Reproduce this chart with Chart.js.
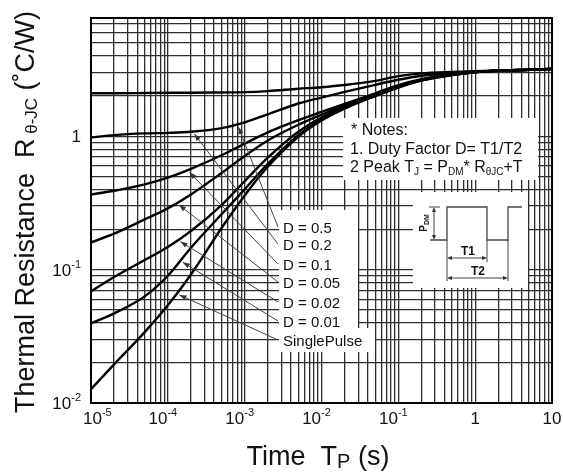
<!DOCTYPE html>
<html>
<head>
<meta charset="utf-8">
<title>Transient Thermal Resistance</title>
<script src="https://cdn.jsdelivr.net/npm/chart.js@4.4.1/dist/chart.umd.min.js"></script>
<style>
  html, body { margin: 0; padding: 0; background: #fff; }
  .box { position: relative; width: 563px; height: 472px; }
</style>
</head>
<body>
<div class="box"><canvas id="thermal" width="563" height="472"></canvas></div>
<script>
// pulse width (s) and thermal resistance (C/W)
const pulseTime = [1e-5, 2e-5, 5e-5, 1e-4, 2e-4, 5e-4, 1e-3, 2e-3, 5e-3, 1e-2, 2e-2, 5e-2, 0.1, 0.2, 0.5, 1, 2, 5, 10];
const rD05    = [2.10, 2.10, 2.11, 2.12, 2.12, 2.13, 2.14, 2.18, 2.27, 2.33, 2.42, 2.60, 2.82, 2.96, 3.04, 3.08, 3.11, 3.15, 3.19];
const rD02    = [0.98, 1.02, 1.05, 1.06, 1.08, 1.15, 1.27, 1.46, 1.76, 1.95, 2.15, 2.43, 2.65, 2.84, 2.98, 3.06, 3.10, 3.15, 3.19];
const rD01    = [0.366, 0.39, 0.436, 0.49, 0.57, 0.72, 0.88, 1.07, 1.32, 1.52, 1.75, 2.10, 2.42, 2.68, 2.92, 3.04, 3.10, 3.15, 3.19];
const rD005   = [0.16, 0.186, 0.238, 0.288, 0.366, 0.53, 0.71, 0.93, 1.22, 1.45, 1.70, 2.06, 2.38, 2.66, 2.90, 3.03, 3.10, 3.15, 3.19];
const rD002   = [0.0687, 0.088, 0.118, 0.148, 0.195, 0.305, 0.46, 0.69, 1.08, 1.38, 1.66, 2.03, 2.35, 2.64, 2.89, 3.03, 3.10, 3.15, 3.19];
const rD001   = [0.0395, 0.047, 0.063, 0.090, 0.146, 0.26, 0.40, 0.62, 1.02, 1.34, 1.63, 2.01, 2.33, 2.62, 2.88, 3.02, 3.10, 3.15, 3.19];
const rSingle = [0.0127, 0.0195, 0.034, 0.054, 0.092, 0.205, 0.36, 0.59, 0.99, 1.31, 1.61, 2.00, 2.32, 2.61, 2.87, 3.02, 3.10, 3.15, 3.19];

const seriesLabels = ['D = 0.5', 'D = 0.2', 'D = 0.1', 'D = 0.05', 'D = 0.02', 'D = 0.01', 'SinglePulse'];
const seriesValues = [rD05, rD02, rD01, rD005, rD002, rD001, rSingle];

// which curve each label's pointer lands on, and at what pulse width
const pointerSeries = [1, 1, 2, 3, 4, 5, 6];
const pointerTime = [8.0e-4, 2.1e-4, 1.8e-4, 1.3e-4, 1.35e-4, 1.45e-4, 1.3e-4];

// axis labels: base text + superscript
const xTickValues = [1e-5, 1e-4, 1e-3, 1e-2, 1e-1, 1, 10];
const xTickBase = ['10', '10', '10', '10', '10', '1', '10'];
const xTickSup = ['-5', '-4', '-3', '-2', '-1', '', ''];
const yTickValues = [0.01, 0.1, 1];
const yTickBase = ['10', '10', '1'];
const yTickSup = ['-2', '-1', ''];

const FONT = '"Liberation Sans", Arial, Helvetica, sans-serif';

function logGridTicks(min, max) {
  const out = [];
  for (let e = Math.floor(Math.log10(min)); e <= Math.ceil(Math.log10(max)); e++) {
    for (let m = 1; m <= 9; m++) {
      const v = parseFloat((m * Math.pow(10, e)).toPrecision(6));
      if (v >= min * 0.999 && v <= max * 1.001) out.push({ value: v });
    }
  }
  return out;
}

function logInterp(xs, ys, t) {
  for (let i = 0; i < xs.length - 1; i++) {
    if (t >= xs[i] && t <= xs[i + 1]) {
      const f = (Math.log10(t) - Math.log10(xs[i])) / (Math.log10(xs[i + 1]) - Math.log10(xs[i]));
      return Math.pow(10, Math.log10(ys[i]) + f * (Math.log10(ys[i + 1]) - Math.log10(ys[i])));
    }
  }
  return ys[ys.length - 1];
}

// runs: [text, size, dy, bold]
function runsWidth(ctx, runs) {
  let w = 0;
  runs.forEach(r => {
    ctx.font = (r[3] ? 'bold ' : '') + r[1] + 'px ' + FONT;
    w += ctx.measureText(r[0]).width;
  });
  return w;
}
function drawRuns(ctx, runs, x, y) {
  let cx = x;
  runs.forEach(r => {
    ctx.font = (r[3] ? 'bold ' : '') + r[1] + 'px ' + FONT;
    ctx.fillText(r[0], cx, y + (r[2] || 0));
    cx += ctx.measureText(r[0]).width;
  });
}
function tickRuns(base, sup) {
  const runs = [[base, 17, 0]];
  if (sup) runs.push([sup, 11, -8]);
  return runs;
}

function arrowHead(ctx, x, y, fromX, fromY, len, half) {
  const a = Math.atan2(y - fromY, x - fromX);
  ctx.beginPath();
  ctx.moveTo(x, y);
  ctx.lineTo(x - len * Math.cos(a) + half * Math.sin(a), y - len * Math.sin(a) - half * Math.cos(a));
  ctx.lineTo(x - len * Math.cos(a) - half * Math.sin(a), y - len * Math.sin(a) + half * Math.cos(a));
  ctx.closePath();
  ctx.fill();
}

function line(ctx, pts) {
  ctx.beginPath();
  ctx.moveTo(pts[0][0], pts[0][1]);
  for (let i = 1; i < pts.length; i++) ctx.lineTo(pts[i][0], pts[i][1]);
  ctx.stroke();
}

const sheetDecor = {
  id: 'sheetDecor',
  beforeDraw(chart) {
    const ctx = chart.ctx;
    ctx.save();
    ctx.fillStyle = '#fff';
    ctx.fillRect(0, 0, chart.width, chart.height);
    ctx.restore();
  },
  afterDraw(chart) {
    const ctx = chart.ctx;
    const ca = chart.chartArea;
    const xs = chart.scales.x, ys = chart.scales.y;
    const L = ca.left, T = ca.top;
    ctx.save();

    // white panels over the grid
    ctx.fillStyle = '#fff';
    ctx.fillRect(L + 252, T + 100, 195, 62);   // notes
    ctx.fillRect(L + 322, T + 174, 115, 96);   // pulse sketch
    ctx.fillRect(L + 188, T + 192, 79, 118);   // D labels
    ctx.fillRect(L + 188, T + 310, 96, 24);    // SinglePulse

    // frame
    ctx.strokeStyle = '#000';
    ctx.lineWidth = 2;
    ctx.strokeRect(ca.left, ca.top, ca.right - ca.left, ca.bottom - ca.top);

    ctx.fillStyle = '#111';
    ctx.textBaseline = 'alphabetic';

    // x tick labels
    xTickValues.forEach((v, i) => {
      const runs = tickRuns(xTickBase[i], xTickSup[i]);
      const w = runsWidth(ctx, runs);
      let x0 = xs.getPixelForValue(v) - w / 2 - (xTickSup[i] ? 5 : 0);
      x0 = Math.max(x0, ca.left - 8);
      drawRuns(ctx, runs, x0, ca.bottom + 21);
    });
    // y tick labels
    yTickValues.forEach((v, i) => {
      const runs = tickRuns(yTickBase[i], yTickSup[i]);
      const w = runsWidth(ctx, runs);
      drawRuns(ctx, runs, ca.left - 10 - w, ys.getPixelForValue(v) + 6);
    });

    // axis titles
    const xTitle = [['Time  T', 27, 0], ['P', 20, 3], [' (s)', 27, 0]];
    const xw = runsWidth(ctx, xTitle);
    drawRuns(ctx, xTitle, L + 227 - xw / 2, ca.bottom + 62);

    const yTitle = [['Thermal Resistance  R', 27, 0], [' \u03b8-JC', 17, 3], [' (\u02daC/W)', 27, 0]];
    const yw = runsWidth(ctx, yTitle);
    ctx.save();
    ctx.translate(34, T + 194);
    ctx.rotate(-Math.PI / 2);
    drawRuns(ctx, yTitle, -yw / 2, 0);
    ctx.restore();

    // notes
    drawRuns(ctx, [['* Notes:', 16]], L + 260, T + 117);
    drawRuns(ctx, [['1. Duty Factor D= T1/T2', 16]], L + 259, T + 136);
    drawRuns(ctx, [['2 Peak T', 16], ['J', 10, 3], [' = P', 16], ['DM', 10, 3], ['* R', 16], ['\u03b8JC', 10, 3], ['+T', 16]], L + 259, T + 154);

    // series labels with pointers
    const labelBase = [215, 232, 252, 270, 290, 309, 328];
    ctx.strokeStyle = '#444';
    ctx.lineWidth = 1;
    seriesLabels.forEach((lab, i) => {
      const by = T + labelBase[i];
      ctx.fillStyle = '#111';
      drawRuns(ctx, [[lab, 15]], L + 192, by);
      const s = pointerSeries[i];
      const tx = xs.getPixelForValue(pointerTime[i]);
      const ty = ys.getPixelForValue(logInterp(pulseTime, seriesValues[s], pointerTime[i]));
      const fx = L + 187, fy = by - 6;
      const d = Math.hypot(fx - tx, fy - ty);
      const px = tx + (fx - tx) * 3 / d, py = ty + (fy - ty) * 3 / d;
      ctx.fillStyle = '#333';
      line(ctx, [[fx, fy], [px, py]]);
      arrowHead(ctx, px, py, fx, fy, 7, 2.5);
    });

    // pulse sketch
    const bx = L + 322, by = T + 174;
    ctx.strokeStyle = '#444';
    ctx.fillStyle = '#333';
    ctx.lineWidth = 1.3;
    line(ctx, [[bx + 17, by + 48], [bx + 34, by + 48], [bx + 34, by + 15], [bx + 74, by + 15], [bx + 74, by + 48], [bx + 95, by + 48], [bx + 95, by + 15], [bx + 109, by + 15]]);
    ctx.lineWidth = 1;
    line(ctx, [[bx + 16, by + 15], [bx + 27, by + 15]]);
    line(ctx, [[bx + 21, by + 17], [bx + 21, by + 46]]);
    arrowHead(ctx, bx + 21, by + 15, bx + 21, by + 30, 5, 2);
    arrowHead(ctx, bx + 21, by + 48, bx + 21, by + 30, 5, 2);
    line(ctx, [[bx + 34, by + 48], [bx + 34, by + 89]]);
    line(ctx, [[bx + 74, by + 48], [bx + 74, by + 70]]);
    line(ctx, [[bx + 95, by + 48], [bx + 95, by + 89]]);
    line(ctx, [[bx + 36, by + 66], [bx + 72, by + 66]]);
    arrowHead(ctx, bx + 34, by + 66, bx + 54, by + 66, 5, 2);
    arrowHead(ctx, bx + 74, by + 66, bx + 54, by + 66, 5, 2);
    line(ctx, [[bx + 36, by + 86], [bx + 93, by + 86]]);
    arrowHead(ctx, bx + 34, by + 86, bx + 64, by + 86, 5, 2);
    arrowHead(ctx, bx + 95, by + 86, bx + 64, by + 86, 5, 2);
    ctx.fillStyle = '#111';
    ctx.textAlign = 'center';
    ctx.font = 'bold 12px ' + FONT;
    ctx.fillText('T1', bx + 55, by + 63);
    ctx.fillText('T2', bx + 65, by + 83);
    ctx.textAlign = 'left';
    ctx.save();
    ctx.translate(bx + 14, by + 31);
    ctx.rotate(-Math.PI / 2);
    const pw = runsWidth(ctx, [['P', 10, 0, true], ['DM', 7, 2, true]]);
    drawRuns(ctx, [['P', 10, 0, true], ['DM', 7, 2, true]], -pw / 2, 0);
    ctx.restore();

    ctx.restore();
  }
};

const datasets = seriesValues.map((vals, i) => ({
  label: seriesLabels[i],
  data: pulseTime.map((t, k) => ({ x: t, y: vals[k] })),
  borderColor: '#000',
  borderWidth: 2.4,
  pointRadius: 0,
  fill: false,
  cubicInterpolationMode: 'monotone'
}));

const gridStyle = { color: '#2e2e2e', lineWidth: 1.3, drawTicks: false };

new Chart(document.getElementById('thermal'), {
  type: 'line',
  data: { datasets },
  options: {
    responsive: false,
    devicePixelRatio: 1,
    animation: false,
    layout: { padding: { left: 91, right: 11, top: 18, bottom: 69 } },
    plugins: { legend: { display: false }, tooltip: { enabled: false } },
    scales: {
      x: {
        type: 'logarithmic',
        min: 1e-5,
        max: 10,
        afterBuildTicks: s => { s.ticks = logGridTicks(1e-5, 10); },
        ticks: { display: false },
        grid: gridStyle,
        border: { display: false }
      },
      y: {
        type: 'logarithmic',
        min: 0.01,
        max: 7.7,
        afterBuildTicks: s => { s.ticks = logGridTicks(0.01, 7.7); },
        ticks: { display: false },
        grid: gridStyle,
        border: { display: false }
      }
    }
  },
  plugins: [sheetDecor]
});
</script>
</body>
</html>
